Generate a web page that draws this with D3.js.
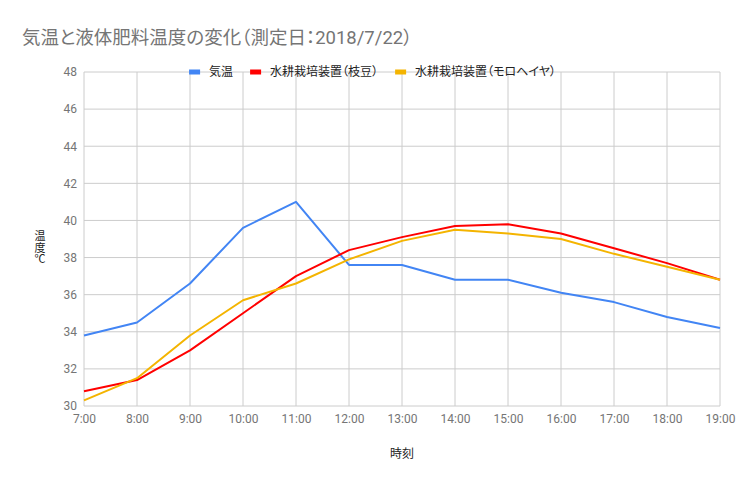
<!DOCTYPE html>
<html>
<head>
<meta charset="utf-8">
<script src="https://cdn.jsdelivr.net/npm/d3@7"></script>
<style>
  body { margin: 0; background: #fff; }
  text { font-family: Roboto, "Noto Sans CJK JP", sans-serif; font-feature-settings: "palt"; }
</style>
</head>
<body>
<div id="container"></div>
<script>
/* CONSTANTS AND GLOBALS */
const width = 745,
  height = 485,
  margin = { top: 72, right: 25, bottom: 79, left: 84 };

/* DATA */
const times = ["7:00", "8:00", "9:00", "10:00", "11:00", "12:00", "13:00",
  "14:00", "15:00", "16:00", "17:00", "18:00", "19:00"];
const seriesNames = ["気温", "水耕栽培装置（枝豆）", "水耕栽培装置（モロヘイヤ）"];
const airTemp = [33.8, 34.5, 36.6, 39.6, 41.0, 37.6, 37.6, 36.8, 36.8, 36.1, 35.6, 34.8, 34.2];
const edamame = [30.8, 31.4, 33.0, 35.0, 37.0, 38.4, 39.1, 39.7, 39.8, 39.3, 38.5, 37.7, 36.8];
const moroheiya = [30.3, 31.5, 33.8, 35.7, 36.6, 37.9, 38.9, 39.5, 39.3, 39.0, 38.2, 37.5, 36.8];
const yTicks = [30, 32, 34, 36, 38, 40, 42, 44, 46, 48];
const colors = ["#4285f4", "#ff0000", "#f4b400"];

const series = [airTemp, edamame, moroheiya];

const svg = d3.select("#container")
  .append("svg")
  .attr("width", width)
  .attr("height", height)

/* SCALES */
const xScale = d3.scalePoint()
  .domain(times)
  .range([margin.left, width - margin.right])

const yScale = d3.scaleLinear()
  .domain([30, 48])
  .range([height - margin.bottom, margin.top])

// title
svg.append("text")
  .attr("x", 22)
  .attr("y", 44)
  .style("font-size", "18.5px")
  .style("fill", "#757575")
  .text("気温と液体肥料温度の変化（測定日：2018/7/22）")

// grid
svg.append("g")
  .attr("class", "grid-y")
  .selectAll("line")
  .data(yTicks)
  .join("line")
  .attr("x1", margin.left)
  .attr("x2", width - margin.right)
  .attr("y1", d => yScale(d))
  .attr("y2", d => yScale(d))
  .style("stroke", "#cccccc")

svg.append("g")
  .attr("class", "grid-x")
  .selectAll("line")
  .data(times)
  .join("line")
  .attr("x1", d => xScale(d))
  .attr("x2", d => xScale(d))
  .attr("y1", margin.top)
  .attr("y2", height - margin.bottom)
  .style("stroke", "#cccccc")

// axes
const yAxis = svg.append("g")
  .attr("class", "y-axis")
  .attr("transform", `translate(${margin.left},0)`)
  .call(d3.axisLeft(yScale).tickValues(yTicks).tickSize(0).tickPadding(7))
yAxis.select(".domain").remove()
yAxis.selectAll("text")
  .style("font-size", "12px")
  .style("fill", "#757575")
  .style("font-family", "Roboto")

const xAxis = svg.append("g")
  .attr("class", "x-axis")
  .attr("transform", `translate(0,${height - margin.bottom})`)
  .call(d3.axisBottom(xScale).tickSize(0).tickPadding(8))
xAxis.select(".domain").remove()
xAxis.selectAll("text")
  .style("font-size", "12px")
  .style("fill", "#757575")
  .style("font-family", "Roboto")

// axis titles
svg.append("text")
  .attr("x", 402)
  .attr("y", 458)
  .attr("text-anchor", "middle")
  .style("font-size", "12px")
  .style("fill", "#222")
  .text("時刻")

const yTitle = svg.append("text")
  .attr("text-anchor", "middle")
  .style("font-size", "11px")
  .style("fill", "#222")
yTitle.selectAll("tspan")
  .data(["温", "度", "℃"])
  .join("tspan")
  .attr("x", 40)
  .attr("y", (d, i) => 240 + i * 11.5)
  .text(d => d)

// lines
const line = d3.line()
  .x((d, i) => xScale(times[i]))
  .y(d => yScale(d))

svg.selectAll(".series")
  .data(series)
  .join("path")
  .attr("class", "series")
  .attr("d", d => line(d))
  .style("fill", "none")
  .style("stroke", (d, i) => colors[i])
  .style("stroke-width", 2)
  .style("stroke-linejoin", "round")

// legend
const legend = svg.append("g").attr("class", "legend")
const items = legend.selectAll("g")
  .data(seriesNames)
  .join("g")
items.append("rect")
  .attr("width", 11)
  .attr("height", 5)
  .attr("y", -2.5)
  .style("fill", (d, i) => colors[i])
items.append("text")
  .attr("x", 20)
  .attr("dy", "0.35em")
  .style("font-size", "12px")
  .style("fill", "#222")
  .text(d => d)

let offset = 0
items.each(function () {
  const g = d3.select(this)
  g.attr("transform", `translate(${offset},${margin.top})`)
  offset += 20 + g.select("text").node().getComputedTextLength() + 17
})
offset -= 17
legend.attr("transform", `translate(${(width - offset) / 2},0)`)
</script>
</body>
</html>
